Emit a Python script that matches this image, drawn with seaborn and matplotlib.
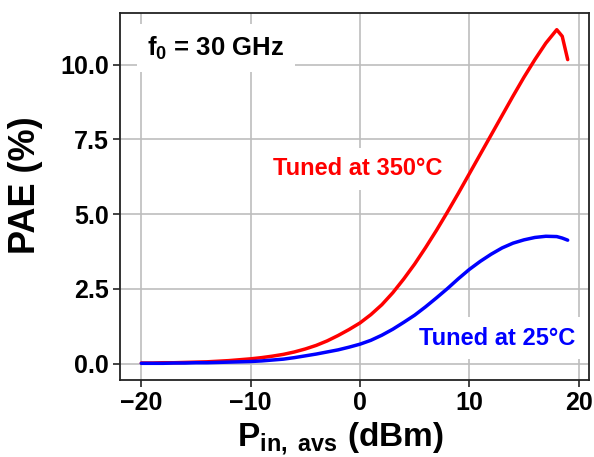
import matplotlib
matplotlib.use("Agg")
import matplotlib.pyplot as plt
import seaborn as sns
import pandas as pd

# Input power sweep (dBm)
pin_dbm = [-20, -19, -18, -17, -16, -15, -14, -13, -12, -11,
           -10, -9, -8, -7, -6, -5, -4, -3, -2, -1,
           0, 1, 2, 3, 4, 5, 6, 7, 8, 9,
           10, 11, 12, 13, 14, 15, 16, 17, 18, 18.5, 19]

# PAE (%) tuned at 350 °C
pae_350 = [0.02, 0.02, 0.03, 0.03, 0.04, 0.05, 0.06, 0.08, 0.10, 0.13,
           0.16, 0.20, 0.25, 0.31, 0.39, 0.49, 0.61, 0.76, 0.94, 1.14,
           1.36, 1.64, 1.97, 2.37, 2.83, 3.33, 3.88, 4.46, 5.07, 5.70,
           6.35, 7.00, 7.65, 8.30, 8.95, 9.58, 10.17, 10.72, 11.17, 10.95, 10.17]

# PAE (%) tuned at 25 °C
pae_25 = [0.01, 0.01, 0.01, 0.02, 0.02, 0.03, 0.03, 0.04, 0.05, 0.06,
          0.07, 0.09, 0.12, 0.15, 0.20, 0.26, 0.32, 0.39, 0.46, 0.55,
          0.65, 0.78, 0.95, 1.15, 1.38, 1.62, 1.90, 2.20, 2.51, 2.84,
          3.15, 3.42, 3.66, 3.87, 4.03, 4.14, 4.22, 4.26, 4.25, 4.20, 4.13]

labels = ["Tuned at 350°C", "Tuned at 25°C"]
colors = ["#ff0000", "#0000ff"]

df = pd.concat([
    pd.DataFrame({"pin": pin_dbm, "pae": pae_350, "case": labels[0]}),
    pd.DataFrame({"pin": pin_dbm, "pae": pae_25, "case": labels[1]}),
])

sns.set_style("ticks")
plt.rcParams["font.family"] = ["Liberation Sans", "DejaVu Sans"]
plt.rcParams["font.weight"] = "bold"
for key in ["text.color", "axes.labelcolor", "xtick.color", "ytick.color"]:
    plt.rcParams[key] = "black"
plt.rcParams["mathtext.fontset"] = "custom"
plt.rcParams["mathtext.rm"] = "Liberation Sans:bold"
plt.rcParams["mathtext.bf"] = "Liberation Sans:bold"
plt.rcParams["mathtext.it"] = "Liberation Sans:bold"

fig = plt.figure(figsize=(5.94, 4.57), dpi=100)
ax = fig.add_axes([0.202, 0.1685, 0.7896, 0.803])

sns.lineplot(data=df, x="pin", y="pae", hue="case", palette=dict(zip(labels, colors)),
             linewidth=2.5, legend=False, ax=ax, sort=False, zorder=3)

ax.grid(True, color="#bdbdbd", linewidth=1.2)
ax.set_axisbelow(True)
ax.set_xticks([-20, -10, 0, 10, 20])
ax.set_yticks([0.0, 2.5, 5.0, 7.5, 10.0])
ax.set_yticklabels(["0.0", "2.5", "5.0", "7.5", "10.0"])
ax.tick_params(axis="both", labelsize=18, length=5, width=1.2, color="#222222", pad=3)
for lab in ax.get_xticklabels() + ax.get_yticklabels():
    lab.set_fontweight("bold")
for sp in ax.spines.values():
    sp.set_visible(True)
    sp.set_linewidth(1.3)
    sp.set_color("#222222")

ax.set_xlabel(r"P$_{\mathbf{in,\ avs}}$ (dBm)", fontsize=24, fontweight="bold")
ax.xaxis.set_label_coords(0.47, -0.11, transform=ax.transAxes)
ax.xaxis.label.set_va("top")
ax.set_ylabel("PAE (%)", fontsize=26, fontweight="bold")
ax.yaxis.set_label_coords(-0.165, 0.53, transform=ax.transAxes)

box = dict(boxstyle="square,pad=0.4", facecolor="white", edgecolor="none")
ax.text(-13.2, 10.55, r"f$_\mathbf{0}$ = 30 GHz", fontsize=18.5, fontweight="bold",
        ha="center", va="center", bbox=box, zorder=2)
ax.text(-0.2, 6.52, labels[0], fontsize=17, fontweight="bold", color=colors[0],
        ha="center", va="center", bbox=box, zorder=2)
ax.text(12.5, 0.85, labels[1], fontsize=17, fontweight="bold", color=colors[1],
        ha="center", va="center", bbox=box, zorder=2)

fig.savefig("out.png", dpi=100)
